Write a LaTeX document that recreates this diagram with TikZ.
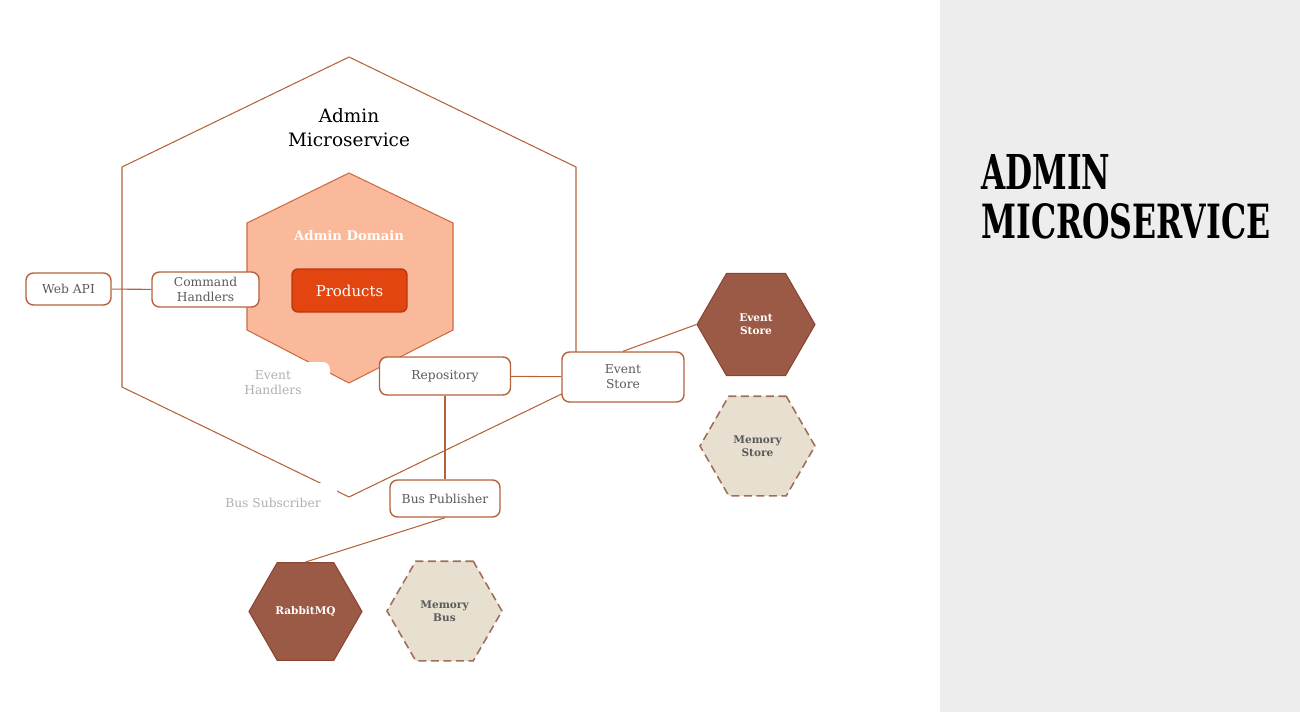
\documentclass[tikz,border=0pt]{standalone}
\usepackage{fontspec}
\setmainfont{DejaVu Serif}
\usetikzlibrary{positioning,shapes.geometric}
\usepackage{xcolor}
\definecolor{edgec}{HTML}{B5623A}
\definecolor{domainbg}{HTML}{FBB99C}
\definecolor{domainln}{HTML}{CC6A42}
\definecolor{productbg}{HTML}{E2450F}
\definecolor{productln}{HTML}{B8390A}
\definecolor{storebg}{HTML}{9B5A45}
\definecolor{storeln}{HTML}{8A4431}
\definecolor{membg}{HTML}{E7E0D1}
\definecolor{memln}{HTML}{A26E58}
\definecolor{boxtext}{HTML}{5A5A5A}
\definecolor{fadetext}{HTML}{B0B0B0}
\definecolor{panelbg}{HTML}{EDEDED}

\begin{document}
\begin{tikzpicture}[
    x=0.2mm, y=-0.2mm,
 mybox/.style = {
        draw=edgec, fill=white, rectangle, rounded corners=1.5mm,
        align=center, line width=0.8pt, inner sep=0pt,
        font=\fontsize{7}{8.5}\selectfont, text=boxtext},
 fadelabel/.style = {
        fill=white, rectangle, rounded corners=1.5mm,
        align=center, inner sep=0pt,
        font=\fontsize{7}{8.5}\selectfont, text=fadetext},
 darkhex/.style = {
        regular polygon, regular polygon sides=6,
        draw=storeln, fill=storebg, line width=0.6pt,
        align=center, inner sep=0pt, text=white,
        font=\fontsize{6}{7.5}\selectfont\bfseries},
 memhex/.style = {
        regular polygon, regular polygon sides=6,
        draw=memln, fill=membg, line width=0.9pt,
        dash pattern=on 1.6mm off 0.9mm,
        align=center, inner sep=0pt, text=boxtext,
        font=\fontsize{6}{7.5}\selectfont\bfseries},
 link/.style = {draw=edgec, line width=0.6pt}
                    ]
\useasboundingbox (0,0) rectangle (1300,712);
% the panel on the right
\fill[panelbg] (940,0) rectangle (1300,712);
\node (ptitleA) [anchor=south west, inner sep=0pt] at (981,190)
                {\resizebox{25.8mm}{7mm}{\bfseries ADMIN}};
\node (ptitleB) [anchor=south west, inner sep=0pt] at (981,240)
                {\resizebox{57.8mm}{7mm}{\bfseries MICROSERVICE}};

% the two hexagons of the service
\draw[edgec, line width=0.6pt] (349,57) -- (576,167) -- (576,387) -- (349,497)
        -- (122,387) -- (122,167) -- cycle;
\draw[domainln, fill=domainbg, line width=0.6pt] (349,173) -- (453,223) -- (453,330)
        -- (349,383) -- (247,330) -- (247,223) -- cycle;
\node (title) [align=center, font=\fontsize{10.5}{13.6}\selectfont] at (349,128)
                {Admin\\Microservice};
\node (domain) [text=white, font=\fontsize{7.5}{9}\selectfont\bfseries] at (349,236)
                {Admin Domain};
\node (products) [draw=productln, fill=productbg, rounded corners=1.2mm, line width=0.8pt,
        minimum width=23mm, minimum height=8.6mm, text=white,
        font=\fontsize{8.5}{10}\selectfont] at (349.5,290.5) {Products};

% the faded labels
\node (evhand) [fadelabel, minimum width=22.8mm, minimum height=8.4mm] at (273,383)
                {Event\\Handlers};
\node (bussub) [fadelabel, minimum width=25.6mm, minimum height=8mm] at (273,503)
                {Bus Subscriber};

% the boxes
\node (webapi) [mybox, minimum width=17mm, minimum height=6.4mm] at (68.5,289) {Web API};
\node (cmdh) [mybox, minimum width=21.4mm, minimum height=7mm] at (205.5,289.5)
                {Command\\Handlers};
\node (repo) [mybox, minimum width=26.2mm, minimum height=7.6mm] at (445,376) {Repository};
\node (esbox) [mybox, minimum width=24.4mm, minimum height=10mm] at (623,377)
                {Event\\Store};
\node (buspub) [mybox, minimum width=22mm, minimum height=7.4mm] at (445,498.5)
                {Bus Publisher};

% the stores and buses
\node (eshex) [darkhex, minimum size=23.6mm] at (756,324.5) {Event\\Store};
\node (memstore) [memhex, minimum size=23mm] at (757.5,446) {Memory\\Store};
\node (rabbit) [darkhex, minimum size=22.6mm] at (305.5,611.5) {RabbitMQ};
\node (membus) [memhex, minimum size=23mm] at (444.5,611) {Memory\\Bus};

% the links
\draw[link] (webapi) -- (cmdh);
\draw[link] (repo) -- (esbox);
\draw[link] (repo) -- (buspub);
\draw[link] (esbox.north) -- (eshex.corner 3);
\draw[link] (buspub.south) -- (rabbit.north);
\end{tikzpicture}
\end{document}
